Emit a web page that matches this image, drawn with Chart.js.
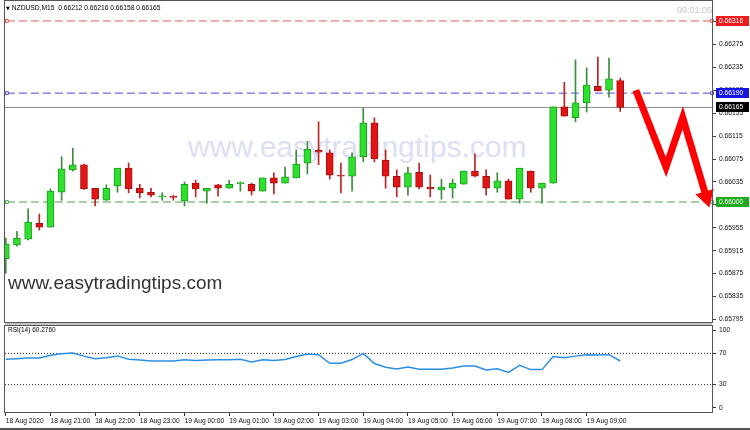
<html>
<head>
<title>NZDUSD M15</title>
<script src="https://cdn.jsdelivr.net/npm/chart.js@4.4.0/dist/chart.umd.min.js"></script>
<style>
body { margin:0; background:#fff; }
#wrap { position:relative; width:750px; height:430px; overflow:hidden; font-family:'Liberation Sans', Arial, sans-serif; background:#fff; }
canvas { position:absolute; left:0; z-index:1; }
#main { top:-8px; }
#rsi { top:318px; }
.t { position:absolute; white-space:nowrap; line-height:1; }
</style>
</head>
<body>
<div id="wrap">
  <div class="t" style="left:188px;top:132px;font-size:30px;color:#dcdff4;z-index:0">www.easytradingtips.com</div>
  <div style="position:absolute;left:5px;top:322px;width:707px;height:4px;background:#c4c4c4;z-index:0"></div>
  <canvas id="main" width="750" height="340"></canvas>
  <canvas id="rsi" width="750" height="112"></canvas>
  <div class="t" style="left:6px;top:5px;font-size:6.7px;color:#000;z-index:2"><span style="font-family:'DejaVu Sans';font-size:5px">▼</span> NZDUSD,M15&nbsp; 0.66212 0.66216 0.66158 0.66165</div>
  <div class="t" style="right:38px;top:6px;font-size:9px;color:#c8c8c8;z-index:2">00:01:05</div>
  <div class="t" style="left:8px;top:273px;font-size:19px;color:#333;z-index:2">www.easytradingtips.com</div>
  <div class="t" style="left:8px;top:327px;font-size:6.5px;color:#000;z-index:2">RSI(14) 60.2760</div>
  <div style="position:absolute;left:0;top:428px;width:750px;height:2px;background:#555;z-index:2"></div>
</div>

<script>
// NZDUSD M15 candles, 18 Aug 2020 20:00 .. 19 Aug 2020 09:45
var opens  = [0.65901,0.65925,0.65935,0.65963,0.65956,0.66017,0.66056,0.66065,0.66024,0.66003,
              0.66028,0.66059,0.66024,0.66017,0.66009,0.66010,0.66002,0.66033,0.66019,0.66030,
              0.66024,0.66032,0.66031,0.66019,0.66042,0.66033,0.66042,0.66068,0.66090,0.66086,
              0.66046,0.66045,0.66079,0.66138,0.66073,0.66045,0.66026,0.66052,0.66026,0.66021,
              0.66024,0.66031,0.66054,0.66045,0.66024,0.66037,0.66005,0.66054,0.66024,0.66033,
              0.66166,0.66147,0.66173,0.66202,0.66195,0.66212];
var highs  = [0.65937,0.65949,0.65988,0.65979,0.66023,0.66079,0.66094,0.66066,0.66024,0.66030,
              0.66059,0.66068,0.66031,0.66024,0.66016,0.66012,0.66035,0.66038,0.66024,0.66031,
              0.66038,0.66035,0.66033,0.66042,0.66051,0.66061,0.66091,0.66106,0.66140,0.66091,
              0.66068,0.66086,0.66164,0.66147,0.66091,0.66056,0.66061,0.66068,0.66047,0.66040,
              0.66040,0.66054,0.66084,0.66056,0.66051,0.66040,0.66059,0.66054,0.66033,0.66166,
              0.66209,0.66248,0.66234,0.66253,0.66251,0.66216];
var lows   = [0.65876,0.65923,0.65934,0.65951,0.65956,0.66003,0.66054,0.66022,0.65993,0.66003,
              0.66017,0.66016,0.66007,0.66009,0.66003,0.66003,0.65993,0.66009,0.65998,0.66010,
              0.66024,0.66019,0.66012,0.66019,0.66014,0.66033,0.66042,0.66049,0.66065,0.66040,
              0.66016,0.66019,0.66070,0.66070,0.66024,0.66009,0.66012,0.66023,0.66009,0.66005,
              0.66007,0.66031,0.66044,0.66012,0.66017,0.66005,0.65998,0.66017,0.65998,0.66033,
              0.66150,0.66140,0.66157,0.66194,0.66183,0.66158];
var closes = [0.65927,0.65937,0.65965,0.65956,0.66019,0.66058,0.66065,0.66023,0.66005,0.66024,
              0.66059,0.66023,0.66016,0.66012,0.66010,0.66008,0.66031,0.66023,0.66024,0.66024,
              0.66031,0.66033,0.66019,0.66042,0.66033,0.66044,0.66066,0.66092,0.66087,0.66047,
              0.66045,0.66079,0.66138,0.66075,0.66045,0.66026,0.66051,0.66026,0.66023,0.66026,
              0.66033,0.66054,0.66045,0.66024,0.66037,0.66005,0.66059,0.66024,0.66033,0.66166,
              0.66150,0.66173,0.66204,0.66194,0.66215,0.66165];
var rsi14  = [62.5,63.3,64.1,64.1,67.6,69.6,70.4,66.5,63.3,64.5,
              66.8,62.5,61.4,60.2,60.2,60.2,61.8,61.0,61.4,61.8,
              61.8,62.5,59.0,61.8,61.0,62.1,66.1,69.2,68.4,57.4,
              57.4,62.1,70.0,57.0,52.3,50.0,52.7,49.6,49.6,49.6,
              51.2,53.9,53.9,48.8,50.4,45.7,54.7,49.2,49.2,66.1,
              64.5,66.5,68.4,68.0,68.4,60.276];

var timeTickIndex = [0,4,8,12,16,20,24,28,32,36,40,44,48,52];
var timeLabels = ['18 Aug 2020','18 Aug 21:00','18 Aug 22:00','18 Aug 23:00','19 Aug 00:00','19 Aug 01:00',
                  '19 Aug 02:00','19 Aug 03:00','19 Aug 04:00','19 Aug 05:00','19 Aug 06:00','19 Aug 07:00',
                  '19 Aug 08:00','19 Aug 09:00'];
var priceTicks = [0.65795,0.65835,0.65875,0.65915,0.65955,0.65995,0.66035,0.66075,0.66115,0.66155,
                  0.66195,0.66235,0.66275,0.66315];
var levelValues = [0.66316, 0.66190, 0.66000];
var levelColors = ['#e05858', '#4848e0', '#4f9f4f'];
var levelLabelBg = ['#ee1c1c', '#1414e6', '#1faa1f'];
var currentPrice = 0.66165;
var rsiLevels = [70, 30];
var rsiTicks = [0, 30, 70, 100];
// hand drawn arrow, in candle index / price units
var arrowX = [56.4, 59.1, 60.6, 62.7];
var arrowY = [0.66195, 0.66061, 0.66147, 0.66009];

var X_MIN = -0.07, X_MAX = 63.22;
var FONT = {family: "'Liberation Sans', Arial, sans-serif", size: 6.7};

var idx = opens.map(function(v, i){ return i; });
function bull(i){ return closes[i] >= opens[i]; }

var frame = {
  id: 'frame',
  afterDraw: function(chart){
    var a = chart.chartArea, c = chart.ctx;
    c.save();
    c.strokeStyle = '#555';
    c.lineWidth = 1;
    c.strokeRect(a.left - 0.5, a.top - 0.5, a.right - a.left + 1, a.bottom - a.top + 1);
    c.restore();
  }
};

var priceLabels = {
  id: 'priceLabels',
  afterDraw: function(chart){
    var c = chart.ctx, ys = chart.scales.y, x0 = chart.chartArea.right + 1;
    var items = levelValues.map(function(v, i){ return {v: v, bg: levelLabelBg[i]}; });
    items.push({v: currentPrice, bg: '#000'});
    c.save();
    c.font = FONT.size + 'px ' + FONT.family;
    c.textBaseline = 'middle';
    items.forEach(function(it){
      var y = Math.round(ys.getPixelForValue(it.v));
      c.fillStyle = it.bg;
      c.fillRect(x0 + 3, y - 5, 33, 10);
      c.fillStyle = '#fff';
      c.fillText(it.v.toFixed(5), x0 + 6, y + 0.5);
    });
    c.restore();
  }
};

var datasets = [
  {
    type: 'bar', label: 'body',
    data: idx.map(function(i){ return {x: i, y: [opens[i], closes[i]]}; }),
    backgroundColor: idx.map(function(i){ return bull(i) ? '#2ee02e' : '#e31414'; }),
    borderColor: idx.map(function(i){ return bull(i) ? '#1c9c1c' : '#a01010'; }),
    borderWidth: 1, borderSkipped: false, barThickness: 7, minBarLength: 1,
    grouped: false, order: 1
  },
  {
    type: 'bar', label: 'wick',
    data: idx.map(function(i){ return {x: i, y: [lows[i], highs[i]]}; }),
    backgroundColor: idx.map(function(i){ return bull(i) ? '#3a8e3a' : '#c02424'; }),
    barThickness: 1, grouped: false, order: 2
  },
  {
    type: 'line', label: 'current',
    data: [{x: X_MIN, y: currentPrice}, {x: X_MAX, y: currentPrice}],
    borderColor: '#8a8a8a', borderWidth: 1, pointRadius: 0, order: 3
  },
  {
    type: 'line', label: 'arrow',
    data: arrowX.map(function(x, i){ return {x: x, y: arrowY[i]}; }),
    borderColor: '#ff0000', borderWidth: 7, borderJoinStyle: 'miter',
    pointRadius: [0, 0, 0, 11], pointStyle: 'triangle', pointRotation: 164,
    pointBackgroundColor: '#ff0000', pointBorderWidth: 0,
    clip: false, order: 0
  }
];
levelValues.forEach(function(v, i){
  datasets.push({
    type: 'line', label: 'level' + i,
    data: [{x: 0.1, y: v}, {x: X_MAX, y: v}],
    borderColor: levelColors[i], borderWidth: 1, borderDash: [8, 4],
    pointRadius: 2, pointStyle: 'rect', pointBackgroundColor: '#fff',
    pointBorderColor: levelColors[i], pointBorderWidth: 1,
    clip: false, order: 3
  });
});

// canvas starts 8px above the page and ends 8px below the panel,
// so that padding 9/10 puts the plot frame at y 1..322
new Chart(document.getElementById('main'), {
  type: 'bar',
  data: {datasets: datasets},
  options: {
    responsive: false, animation: false, devicePixelRatio: 1,
    layout: {autoPadding: false, padding: {left: 5, top: 9, right: 0, bottom: 10}},
    plugins: {legend: {display: false}, tooltip: {enabled: false}},
    scales: {
      x: {type: 'linear', display: false, offset: false, min: X_MIN, max: X_MAX},
      y: {
        position: 'right', min: 0.657906, max: 0.663508,
        afterBuildTicks: function(s){ s.ticks = priceTicks.map(function(v){ return {value: v}; }); },
        afterFit: function(s){ s.width = 38; },
        grid: {drawOnChartArea: false, tickLength: 4, color: '#444'},
        border: {color: '#444'},
        ticks: {font: FONT, color: '#111', padding: 3, autoSkip: false,
                callback: function(v){ return Number(v).toFixed(5); }}
      }
    }
  },
  plugins: [frame, priceLabels]
});

var rsiSets = [
  {
    label: 'RSI',
    data: idx.map(function(i){ return {x: i, y: rsi14[i]}; }),
    borderColor: '#2a8ee6', borderWidth: 1.5, pointRadius: 0, tension: 0
  }
];
rsiLevels.forEach(function(v){
  rsiSets.push({
    label: 'lvl' + v,
    data: [{x: X_MIN, y: v}, {x: X_MAX, y: v}],
    borderColor: '#333', borderWidth: 1, borderDash: [1, 2], pointRadius: 0
  });
});

new Chart(document.getElementById('rsi'), {
  type: 'line',
  data: {datasets: rsiSets},
  options: {
    responsive: false, animation: false, devicePixelRatio: 1,
    layout: {autoPadding: false, padding: {left: 5, top: 8, right: 0, bottom: 2}},
    plugins: {legend: {display: false}, tooltip: {enabled: false}},
    scales: {
      x: {
        type: 'linear', min: X_MIN, max: X_MAX, offset: false,
        afterBuildTicks: function(s){ s.ticks = timeTickIndex.map(function(v){ return {value: v}; }); },
        afterFit: function(s){ s.height = 16; },
        grid: {drawOnChartArea: false, tickLength: 4, color: '#333'},
        border: {color: '#333'},
        ticks: {font: FONT, color: '#111', padding: 1, autoSkip: false, maxRotation: 0, align: 'start',
                callback: function(v){ return timeLabels[timeTickIndex.indexOf(v)]; }}
      },
      y: {
        position: 'right', min: -5.13, max: 105.13,
        afterBuildTicks: function(s){ s.ticks = rsiTicks.map(function(v){ return {value: v}; }); },
        afterFit: function(s){ s.width = 38; },
        grid: {drawOnChartArea: false, tickLength: 4, color: '#333'},
        border: {color: '#333'},
        ticks: {font: FONT, color: '#111', padding: 3, autoSkip: false}
      }
    }
  },
  plugins: [frame]
});
</script>
</body>
</html>
